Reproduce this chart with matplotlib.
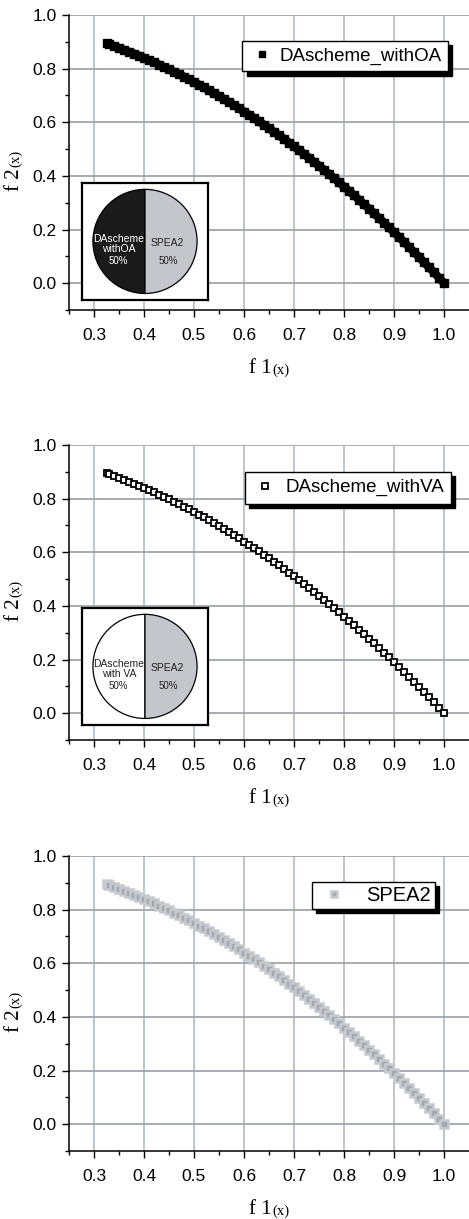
import matplotlib
matplotlib.use('Agg')
import matplotlib.pyplot as plt

# Pareto front points (same front in all three panels)
f1 = [0.325, 0.33, 0.34, 0.35, 0.36, 0.37, 0.38, 0.39, 0.40, 0.41, 0.42, 0.43,
      0.44, 0.45, 0.46, 0.47, 0.48, 0.49, 0.50, 0.51, 0.52, 0.53, 0.54, 0.55,
      0.56, 0.57, 0.58, 0.59, 0.60, 0.61, 0.62, 0.63, 0.64, 0.65, 0.66, 0.67,
      0.68, 0.69, 0.70, 0.71, 0.72, 0.73, 0.74, 0.75, 0.76, 0.77, 0.78, 0.79,
      0.80, 0.81, 0.82, 0.83, 0.84, 0.85, 0.86, 0.87, 0.88, 0.89, 0.90, 0.91,
      0.92, 0.93, 0.94, 0.95, 0.96, 0.97, 0.98, 0.99, 1.00]
f2 = [0.894, 0.891, 0.884, 0.877, 0.870, 0.863, 0.856, 0.848, 0.840, 0.832, 0.824, 0.815,
      0.806, 0.798, 0.788, 0.779, 0.770, 0.760, 0.750, 0.740, 0.730, 0.719, 0.708, 0.698,
      0.686, 0.675, 0.664, 0.652, 0.640, 0.628, 0.616, 0.603, 0.590, 0.578, 0.564, 0.551,
      0.538, 0.524, 0.510, 0.496, 0.482, 0.467, 0.452, 0.438, 0.422, 0.407, 0.392, 0.376,
      0.360, 0.344, 0.328, 0.311, 0.294, 0.278, 0.260, 0.243, 0.226, 0.208, 0.190, 0.172,
      0.154, 0.135, 0.116, 0.098, 0.078, 0.059, 0.040, 0.020, 0.000]

series_names = ['DAscheme_withOA', 'DAscheme_withVA', 'SPEA2']
pie_shares = [50, 50]
pie_labels = [['DAscheme\nwithOA', 'DAscheme\nwith VA'], 'SPEA2']

xticks = [0.3, 0.4, 0.5, 0.6, 0.7, 0.8, 0.9, 1.0]
yticks = [0.0, 0.2, 0.4, 0.6, 0.8, 1.0]

SANS = 'Liberation Sans'
SERIF = 'Liberation Serif'
GRAY = '#c3c6cc'

fig = plt.figure(figsize=(4.69, 12.19), dpi=100)
left = 69 / 469
width = 1 - left
tops = [15, 445, 856]
h = 295

axes = []
for t in tops:
    b = 1 - (t + h) / 1219
    ax = fig.add_axes([left, b, width, h / 1219])
    axes.append(ax)

def style_axes(ax):
    ax.set_xlim(0.25, 1.05)
    ax.set_ylim(-0.1, 1.0)
    ax.set_xticks(xticks)
    ax.set_xticks([0.25 + 0.1 * i for i in range(8)], minor=True)
    ax.set_yticks(yticks)
    ax.set_yticks([-0.1, 0.1, 0.3, 0.5, 0.7, 0.9], minor=True)
    ax.set_xticklabels(['%.1f' % v for v in xticks], fontfamily=SANS, fontsize=12.5)
    ax.set_yticklabels(['%.1f' % v for v in yticks], fontfamily=SANS, fontsize=12.5)
    ax.tick_params(which='major', direction='out', length=5, width=1, pad=4)
    ax.tick_params(which='minor', direction='out', length=3, width=1)
    ax.tick_params(axis='x', pad=8)
    for s in ['top', 'right']:
        ax.spines[s].set_visible(False)
    for s in ['left', 'bottom']:
        ax.spines[s].set_linewidth(1.1)
    ax.xaxis.grid(True, color='#b8c0c8', linewidth=1.3)
    ax.yaxis.grid(True, color='#a0a6ac', linewidth=1.3)
    ax.set_axisbelow(True)
    # axis labels: "f 1(x)" and "f 2(x)" with smaller "(x)"
    ax.text(0.5075, -0.215, 'f 1', transform=ax.transAxes, ha='right', va='baseline',
            fontfamily=SERIF, fontsize=15)
    ax.text(0.5095, -0.215, '(x)', transform=ax.transAxes, ha='left', va='baseline',
            fontfamily=SERIF, fontsize=10.5)
    ax.text(-0.125, 0.48, 'f 2', transform=ax.transAxes, rotation=90, rotation_mode='anchor',
            ha='right', va='baseline', fontfamily=SERIF, fontsize=15)
    ax.text(-0.125, 0.485, '(x)', transform=ax.transAxes, rotation=90, rotation_mode='anchor',
            ha='left', va='baseline', fontfamily=SERIF, fontsize=10.5)

for ax in axes:
    style_axes(ax)

def add_legend(ax, handle, corner, size, hl, htp, pad, mscale):
    leg = ax.legend(handles=[handle], loc='upper right', bbox_to_anchor=corner,
                    borderaxespad=0, fancybox=False,
                    shadow={'color': 'black', 'alpha': 1, 'ox': 3, 'oy': -3},
                    edgecolor='black', framealpha=1,
                    prop={'family': SANS, 'size': size}, handlelength=hl,
                    handletextpad=htp, borderpad=pad, markerscale=mscale)
    leg.get_frame().set_linewidth(1)
    return leg

# panel 1: filled black squares
ax = axes[0]
ax.plot(f1, f2, color='black', linewidth=6, solid_capstyle='butt', zorder=3)
pts1, = ax.plot(f1, f2, linestyle='none', marker='s', markersize=5.5, color='black',
                zorder=4, label=series_names[0])
add_legend(ax, pts1, (0.948, 0.912), 13.5, 1.43, 0.2, 0.35, 0.75)

# panel 2: hollow squares
ax = axes[1]
pts2, = ax.plot(f1, f2, linestyle='none', marker='s', markersize=4.6, markerfacecolor='white',
                markeredgecolor='black', markeredgewidth=1.3, zorder=4, label=series_names[1])
add_legend(ax, pts2, (0.955, 0.9085), 13.5, 1.43, 0.35, 0.38, 0.95)

# panel 3: gray squares
ax = axes[2]
ax.plot(f1, f2, color='#c6cad0', linewidth=5.5, solid_capstyle='butt', zorder=3)
pts3, = ax.plot(f1, f2, linestyle='none', marker='s', markersize=5.5, markerfacecolor='#a4a9b0',
                markeredgecolor='#c6cad0', markeredgewidth=1.8, zorder=4, label=series_names[2])
add_legend(ax, pts3, (0.915, 0.912), 14.5, 1.75, 0.75, 0.2, 0.7)

# pie insets
def pie_inset(ax, bottom, first_color, text_color, label):
    ins = ax.inset_axes([0.0325, bottom, 0.315, 0.397])
    ins.pie(pie_shares, colors=[first_color, GRAY], startangle=90, counterclock=True,
            wedgeprops={'edgecolor': 'black', 'linewidth': 0.9})
    ins.set_frame_on(True)
    ins.set_xlim(-1.21, 1.21)
    ins.set_ylim(-1.125, 1.125)
    ins.set_aspect('auto')
    ins.set_xticks([])
    ins.set_yticks([])
    ins.set_facecolor('white')
    for s in ins.spines.values():
        s.set_visible(True)
        s.set_linewidth(1.6)
        s.set_color('black')
    ins.text(-0.5, -0.05, label, ha='center', va='center', color=text_color,
             fontfamily=SANS, fontsize=7.5, linespacing=1.1)
    ins.text(-0.52, -0.37, '%d%%' % pie_shares[0], ha='center', va='center',
             color=text_color, fontfamily=SANS, fontsize=7)
    ins.text(0.42, -0.04, pie_labels[1], ha='center', va='center', color='#222222',
             fontfamily=SANS, fontsize=7.5)
    ins.text(0.44, -0.37, '%d%%' % pie_shares[1], ha='center', va='center',
             color='#222222', fontfamily=SANS, fontsize=7)

pie_inset(axes[0], 0.034, '#1a1a1a', 'white', pie_labels[0][0])
pie_inset(axes[1], 0.051, 'white', '#222222', pie_labels[0][1])

fig.savefig('out.png', dpi=100)
